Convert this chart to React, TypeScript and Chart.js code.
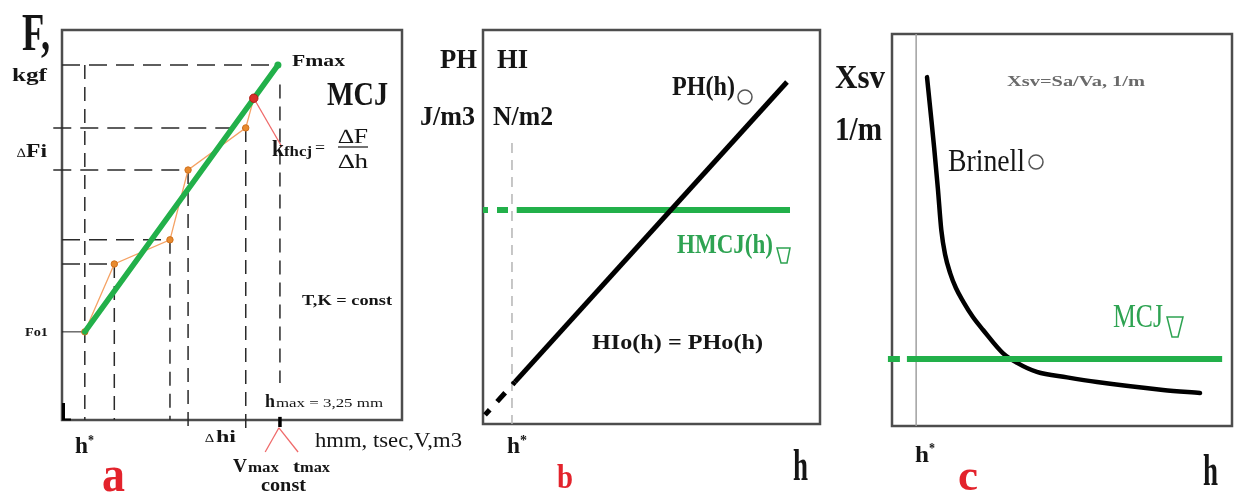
import React, { useEffect, useRef } from 'react';
import { Chart, registerables } from 'chart.js';

Chart.register(...registerables);

const FONT = "'Liberation Serif', 'Times New Roman', serif";
const GREEN = '#22b04a';
const GREEN_TXT = '#2ea352';
const RED = '#e3232c';
const INK = '#151515';

// ---------- Panel a : F(h), kgf vs mm ----------
const hA = [0.34, 0.78, 1.61, 1.88, 2.74, 2.86, 3.22];
const fA = [22.6, 40.0, 46.2, 64.1, 74.9, 82.5, 91.0];
const hMaxA = 3.25;
const greenA = { h: [0.34, 3.22], f: [22.6, 91.0] };
const kLeaderA = { h: [2.86, 3.28], f: [82.5, 70.0] };
const hmaxGuideF = [86.0, 9.5];
const hmaxTickF = [-1.8, 0.8];
const vmaxLeader = { h: [3.235, 3.03], f: [-2.0, -8.2] };
const tmaxLeader = { h: [3.235, 3.52], f: [-2.0, -8.2] };
const guideLeftA = -0.13;
const guideLowA = -2.6;

// ---------- Panel b : PH(h), HMCJ(h) ----------
const hB = [0.06, 0.95, 9.02];
const phB = [0.23, 1.07, 8.68];
const hmcjLevelB = 5.43;
const hmcjB_h = [0, 1.0, 9.11];
const hStarB = 0.86;
const hStarTopB = 7.13;

// ---------- Panel c : Xsv(h) ----------
const hC = [1.03, 1.13, 1.24, 1.35, 1.45, 1.56, 1.71, 1.88, 2.09, 2.38, 2.68, 3.26, 3.68, 4.26, 5.15, 6.03, 7.97, 9.06];
const xsvC = [8.9, 8.05, 7.1, 6.05, 5.0, 4.38, 3.9, 3.52, 3.18, 2.78, 2.45, 1.86, 1.61, 1.38, 1.24, 1.12, 0.92, 0.84];
const mcjLevelC = 1.71;
const mcjC_h = [-0.12, 0.44, 9.71];
const hStarC = 0.71;

const pts = (xs: number[], ys: number[]) => xs.map((x, i) => ({ x, y: ys[i] }));
const hline = (x0: number, x1: number, y: number) => [{ x: x0, y }, { x: x1, y }];
const vline = (x: number, y0: number, y1: number) => [{ x, y: y0 }, { x, y: y1 }];

type T = { t: string; x: number; y: number; s: number; b?: boolean; w?: number; c?: string };
type Shape =
  | { k: 'circle'; x: number; y: number; r: number; c: string; lw: number }
  | { k: 'trap'; x0: number; x1: number; y0: number; bx0: number; bx1: number; y1: number; c: string; lw: number }
  | { k: 'line'; x0: number; y0: number; x1: number; y1: number; c: string; lw: number };

const textsA: T[] = [
  { t: 'F,', x: 22, y: 50, s: 52, b: true, w: 28 },
  { t: 'kgf', x: 12, y: 81, s: 18, b: true, w: 35 },
  { t: '∆', x: 17, y: 157, s: 13, w: 9 },
  { t: 'Fi', x: 26, y: 157, s: 18, b: true, w: 21 },
  { t: 'Fmax', x: 292, y: 66, s: 17, b: true, w: 53 },
  { t: 'MCJ', x: 327, y: 105, s: 34, b: true, w: 61 },
  { t: 'k', x: 272, y: 156, s: 24, b: true, w: 12 },
  { t: 'fhcj', x: 284, y: 156, s: 14, b: true, w: 28 },
  { t: '=', x: 315, y: 153, s: 16, w: 10 },
  { t: '∆F', x: 338, y: 143, s: 20, w: 30 },
  { t: '∆h', x: 338, y: 168, s: 20, w: 30 },
  { t: 'Fo1', x: 25, y: 336, s: 12, b: true, w: 23 },
  { t: 'T,K = const', x: 302, y: 305, s: 15, b: true, w: 90 },
  { t: 'h', x: 265, y: 407, s: 18, b: true, w: 10 },
  { t: 'max = 3,25 mm', x: 276, y: 407, s: 13, w: 107 },
  { t: '∆', x: 205, y: 442, s: 12, w: 9 },
  { t: 'hi', x: 216, y: 442, s: 17, b: true, w: 20 },
  { t: 'hmm, tsec,V,m3', x: 315, y: 447, s: 20, w: 147 },
  { t: 'V', x: 233, y: 472, s: 18, b: true, w: 14 },
  { t: 'max', x: 248, y: 472, s: 14, b: true, w: 31 },
  { t: 't', x: 293, y: 472, s: 16, b: true, w: 7 },
  { t: 'max', x: 300, y: 472, s: 14, b: true, w: 30 },
  { t: 'const', x: 261, y: 491, s: 19, b: true, w: 45 },
  { t: 'h', x: 75, y: 453, s: 24, b: true, w: 13 },
  { t: '*', x: 88, y: 445, s: 14, b: true, w: 6 },
  { t: 'a', x: 102, y: 491, s: 50, b: true, w: 23, c: RED },
];
const shapesA: Shape[] = [
  { k: 'line', x0: 338, y0: 147, x1: 368, y1: 147, c: INK, lw: 1.2 },
  { k: 'line', x0: 63.5, y0: 403, x1: 63.5, y1: 420, c: '#000', lw: 3 },
  { k: 'line', x0: 62, y0: 419.5, x1: 71, y1: 419.5, c: '#000', lw: 2 },
];

const textsB: T[] = [
  { t: 'PH', x: 440, y: 68, s: 27, b: true, w: 37 },
  { t: 'HI', x: 497, y: 68, s: 27, b: true, w: 31 },
  { t: 'J/m3', x: 420, y: 125, s: 27, b: true, w: 55 },
  { t: 'N/m2', x: 493, y: 125, s: 27, b: true, w: 60 },
  { t: 'PH(h)', x: 672, y: 95, s: 27, b: true, w: 63 },
  { t: 'HMCJ(h)', x: 677, y: 253, s: 27, b: true, w: 96, c: GREEN_TXT },
  { t: 'HIo(h) = PHo(h)', x: 592, y: 349, s: 21, b: true, w: 171 },
  { t: 'h', x: 507, y: 453, s: 24, b: true, w: 13 },
  { t: '*', x: 520, y: 445, s: 14, b: true, w: 7 },
  { t: 'b', x: 557, y: 488, s: 34, b: true, w: 16, c: RED },
  { t: 'h', x: 793, y: 480, s: 44, b: true, w: 15 },
];
const shapesB: Shape[] = [
  { k: 'circle', x: 745, y: 97, r: 7, c: '#555', lw: 1.5 },
  { k: 'trap', x0: 777, x1: 790, y0: 248, bx0: 781, bx1: 787, y1: 263, c: GREEN_TXT, lw: 1.5 },
];

const textsC: T[] = [
  { t: 'Xsv', x: 835, y: 88, s: 34, b: true, w: 50 },
  { t: '1/m', x: 835, y: 140, s: 34, b: true, w: 47 },
  { t: 'Xsv=Sa/Va, 1/m', x: 1007, y: 86, s: 15, b: true, w: 138, c: '#6a6a6a' },
  { t: 'Brinell', x: 948, y: 171, s: 31, w: 77 },
  { t: 'MCJ', x: 1113, y: 327, s: 34, w: 50, c: GREEN_TXT },
  { t: 'h', x: 915, y: 462, s: 24, b: true, w: 14 },
  { t: '*', x: 929, y: 453, s: 14, b: true, w: 6 },
  { t: 'c', x: 958, y: 490, s: 44, b: true, w: 20, c: RED },
  { t: 'h', x: 1203, y: 485, s: 44, b: true, w: 15 },
];
const shapesC: Shape[] = [
  { k: 'circle', x: 1036, y: 162, r: 7, c: '#555', lw: 1.5 },
  { k: 'trap', x0: 1167, x1: 1183, y0: 317, bx0: 1172, bx1: 1178, y1: 337, c: GREEN_TXT, lw: 1.5 },
];

function makePlugin(ox: number, texts: T[], shapes: Shape[]) {
  return {
    id: 'decor',
    beforeDatasetsDraw(chart: any) {
      const { ctx, chartArea: a } = chart;
      ctx.save();
      ctx.strokeStyle = '#4d4d4d';
      ctx.lineWidth = 2.5;
      ctx.strokeRect(a.left, a.top, a.right - a.left, a.bottom - a.top);
      ctx.restore();
    },
    afterDraw(chart: any) {
      const ctx = chart.ctx;
      for (const s of shapes) {
        ctx.save();
        ctx.strokeStyle = s.c;
        ctx.lineWidth = s.lw;
        ctx.beginPath();
        if (s.k === 'circle') {
          ctx.arc(s.x - ox, s.y, s.r, 0, Math.PI * 2);
        } else if (s.k === 'trap') {
          ctx.moveTo(s.x0 - ox, s.y0);
          ctx.lineTo(s.x1 - ox, s.y0);
          ctx.lineTo(s.bx1 - ox, s.y1);
          ctx.lineTo(s.bx0 - ox, s.y1);
          ctx.closePath();
        } else {
          ctx.moveTo(s.x0 - ox, s.y0);
          ctx.lineTo(s.x1 - ox, s.y1);
        }
        ctx.stroke();
        ctx.restore();
      }
      for (const it of texts) {
        ctx.save();
        ctx.font = `${it.b ? 'bold ' : ''}${it.s}px ${FONT}`;
        ctx.fillStyle = it.c || INK;
        ctx.textAlign = 'left';
        ctx.textBaseline = 'alphabetic';
        const m = ctx.measureText(it.t).width;
        const sx = it.w ? it.w / m : 1;
        ctx.translate(it.x - ox, it.y);
        ctx.scale(sx, 1);
        ctx.fillText(it.t, 0, 0);
        ctx.restore();
      }
    },
  };
}

const lineDs = (data: any[], color: string, width: number, order: number, extra: any = {}) => ({
  data,
  showLine: true,
  borderColor: color,
  backgroundColor: color,
  borderWidth: width,
  pointRadius: 0,
  clip: false,
  order,
  ...extra,
});

function baseOptions(pad: any, xMin: number, xMax: number, yMin: number, yMax: number) {
  return {
    responsive: false,
    maintainAspectRatio: false,
    devicePixelRatio: 1,
    animation: false as const,
    events: [],
    layout: { padding: pad },
    plugins: { legend: { display: false }, tooltip: { enabled: false }, title: { display: false } },
    scales: {
      x: { type: 'linear' as const, min: xMin, max: xMax, display: false },
      y: { type: 'linear' as const, min: yMin, max: yMax, display: false },
    },
  };
}

function configA() {
  const dashH = [18, 9];
  const dashV = [14, 8];
  const g = '#2a2a2a';
  const ds: any[] = [];
  // horizontal guides
  ds.push(lineDs(hline(0, hA[6], fA[6]), g, 1.5, 20, { borderDash: dashH }));
  ds.push(lineDs(hline(guideLeftA, hA[4], fA[4]), g, 1.5, 20, { borderDash: dashH }));
  ds.push(lineDs(hline(guideLeftA, hA[3], fA[3]), g, 1.5, 20, { borderDash: dashH }));
  ds.push(lineDs(hline(0, hA[2], fA[2]), g, 1.5, 20, { borderDash: dashH }));
  ds.push(lineDs(hline(0, hA[1], fA[1]), g, 1.5, 20, { borderDash: dashH }));
  ds.push(lineDs(hline(0, hA[0], fA[0]), '#222', 1, 20));
  // vertical guides
  ds.push(lineDs(vline(hA[0], fA[6], 0), g, 1.5, 20, { borderDash: dashV }));
  ds.push(lineDs(vline(hA[1], fA[1], 0), g, 1.5, 20, { borderDash: dashV }));
  ds.push(lineDs(vline(hA[2], fA[2], 0), g, 1.5, 20, { borderDash: dashV }));
  ds.push(lineDs(vline(hA[3], fA[3], guideLowA), g, 1.5, 20, { borderDash: dashV }));
  ds.push(lineDs(vline(hA[4], fA[4], guideLowA), g, 1.5, 20, { borderDash: dashV }));
  ds.push(lineDs(vline(hMaxA, hmaxGuideF[0], hmaxGuideF[1]), g, 1.5, 20, { borderDash: dashV }));
  ds.push(lineDs(vline(hMaxA, hmaxTickF[0], hmaxTickF[1]), '#000', 3.5, 2));
  // red leaders
  ds.push(lineDs(pts(kLeaderA.h, kLeaderA.f), '#ef6a6a', 1.3, 4));
  ds.push(lineDs(pts(vmaxLeader.h, vmaxLeader.f), '#ef6a6a', 1.3, 4));
  ds.push(lineDs(pts(tmaxLeader.h, tmaxLeader.f), '#ef6a6a', 1.3, 4));
  // orange measured polyline
  ds.push(
    lineDs(pts(hA, fA), '#f5a264', 1.3, 6, {
      pointRadius: hA.map((_, i) => (i < 5 ? 3.2 : 0)),
      pointBackgroundColor: '#e88a2e',
      pointBorderColor: '#d0701c',
      pointBorderWidth: 1,
    })
  );
  // green linear approximation
  ds.push(
    lineDs(pts(greenA.h, greenA.f), GREEN, 5.5, 3, {
      pointRadius: [0, 3.5],
      pointBackgroundColor: GREEN,
      pointBorderWidth: 0,
      borderCapStyle: 'round',
    })
  );
  // red point on green line
  ds.push({
    data: [{ x: hA[5], y: fA[5] }],
    showLine: false,
    pointRadius: 4.2,
    pointBackgroundColor: '#d8322a',
    pointBorderColor: '#b01a14',
    pointBorderWidth: 1,
    clip: false,
    order: 1,
  });
  return {
    type: 'scatter' as const,
    data: { datasets: ds },
    options: baseOptions({ left: 62, top: 30, right: 68, bottom: 73 }, 0, 5.07, 0, 100),
    plugins: [makePlugin(0, textsA, shapesA)],
  };
}

function configB() {
  const ds: any[] = [];
  ds.push(lineDs(vline(hStarB, hStarTopB, 0), '#b5b5b5', 1.5, 20, { borderDash: [10, 7] }));
  ds.push(lineDs(hline(hmcjB_h[0], hmcjB_h[1], hmcjLevelB), GREEN, 6, 5, { borderDash: [5, 9, 11, 9] }));
  ds.push(lineDs(hline(hmcjB_h[1], hmcjB_h[2], hmcjLevelB), GREEN, 6, 5));
  ds.push(lineDs(pts(hB.slice(0, 2), phB.slice(0, 2)), '#000', 5, 3, { borderDash: [7, 11, 12, 11] }));
  ds.push(lineDs(pts(hB.slice(1), phB.slice(1)), '#000', 5, 3));
  return {
    type: 'scatter' as const,
    data: { datasets: ds },
    options: baseOptions({ left: 68, top: 30, right: 10, bottom: 69 }, 0, 10, 0, 10),
    plugins: [makePlugin(415, textsB, shapesB)],
  };
}

function configC() {
  const ds: any[] = [];
  ds.push(lineDs(vline(hStarC, 0, 10), '#a0a0a0', 1.5, 20));
  ds.push(lineDs(pts(hC, xsvC), '#000', 4.5, 5, { cubicInterpolationMode: 'monotone', borderCapStyle: 'round' }));
  ds.push(lineDs(hline(mcjC_h[0], mcjC_h[1], mcjLevelC), GREEN, 6, 3, { borderDash: [12, 7] }));
  ds.push(lineDs(hline(mcjC_h[1], mcjC_h[2], mcjLevelC), GREEN, 6, 3));
  return {
    type: 'scatter' as const,
    data: { datasets: ds },
    options: baseOptions({ left: 62, top: 34, right: 3, bottom: 67 }, 0, 10, 0, 10),
    plugins: [makePlugin(830, textsC, shapesC)],
  };
}

export default function App() {
  const ra = useRef<HTMLCanvasElement>(null);
  const rb = useRef<HTMLCanvasElement>(null);
  const rc = useRef<HTMLCanvasElement>(null);
  useEffect(() => {
    const charts = [
      new Chart(rb.current as HTMLCanvasElement, configB() as any),
      new Chart(rc.current as HTMLCanvasElement, configC() as any),
      new Chart(ra.current as HTMLCanvasElement, configA() as any),
    ];
    return () => charts.forEach((c) => c.destroy());
  }, []);
  const cs = (left: number, width: number, z: number): React.CSSProperties => ({
    position: 'absolute',
    left,
    top: 0,
    width,
    height: 493,
    display: 'block',
    zIndex: z,
  });
  return (
    <div style={{ position: 'fixed', left: 0, top: 0, width: 1235, height: 493, background: '#fff', overflow: 'hidden' }}>
      <canvas ref={rb} width={415} height={493} style={cs(415, 415, 1)} />
      <canvas ref={rc} width={405} height={493} style={cs(830, 405, 1)} />
      <canvas ref={ra} width={470} height={493} style={cs(0, 470, 2)} />
    </div>
  );
}
